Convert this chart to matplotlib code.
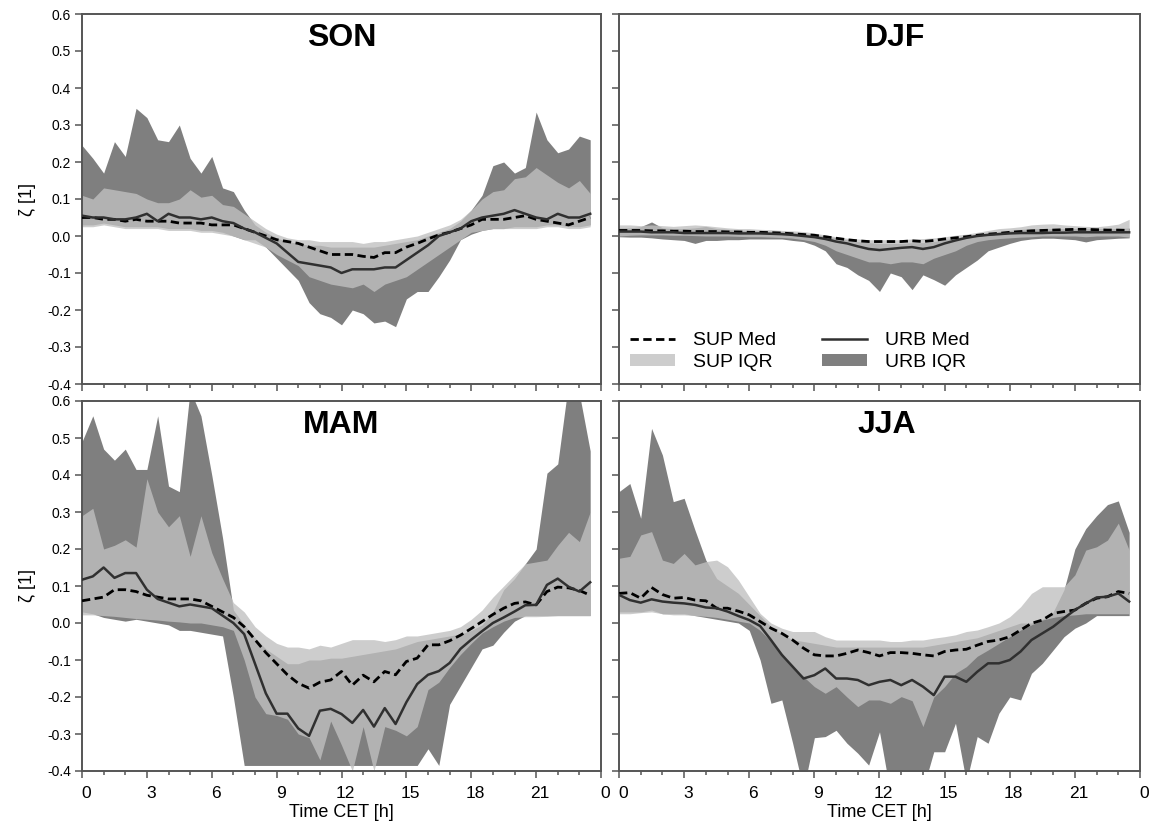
import numpy as np
import matplotlib
matplotlib.use("Agg")
import matplotlib.pyplot as plt
import matplotlib.transforms as mtransforms
from matplotlib.ticker import MultipleLocator, FixedLocator
from matplotlib.lines import Line2D
from matplotlib.patches import Patch

plt.rcParams['font.family'] = ['Liberation Sans', 'DejaVu Sans']
plt.rcParams['axes.unicode_minus'] = False

# half-hourly time axis (CET)
hours = np.arange(48) * 0.5

# ---- SON ----
son_urb_med = [0.055, 0.05, 0.05, 0.045, 0.045, 0.05, 0.06, 0.04,
               0.06, 0.05, 0.05, 0.045, 0.05, 0.04, 0.035, 0.02,
               0.01, -0.005, -0.02, -0.045, -0.07, -0.075, -0.08, -0.085,
               -0.1, -0.09, -0.09, -0.09, -0.085, -0.085, -0.065, -0.045,
               -0.025, 0.0, 0.01, 0.02, 0.04, 0.05, 0.055, 0.06,
               0.07, 0.06, 0.05, 0.045, 0.06, 0.05, 0.05, 0.06]
son_sup_med = [0.05, 0.05, 0.045, 0.045, 0.04, 0.045, 0.04, 0.04,
               0.04, 0.035, 0.035, 0.035, 0.03, 0.03, 0.03, 0.02,
               0.01, 0.0, -0.01, -0.015, -0.02, -0.03, -0.04, -0.05,
               -0.05, -0.05, -0.055, -0.058, -0.045, -0.045, -0.03, -0.02,
               -0.008, 0.003, 0.01, 0.02, 0.03, 0.045, 0.045, 0.045,
               0.05, 0.055, 0.045, 0.04, 0.035, 0.03, 0.04, 0.05]
son_sup_hi = [0.11, 0.10, 0.13, 0.125, 0.12, 0.115, 0.10, 0.09,
              0.09, 0.10, 0.125, 0.105, 0.11, 0.085, 0.08, 0.06,
              0.04, 0.02, 0.005, -0.005, -0.01, -0.01, -0.015, -0.015,
              -0.015, -0.015, -0.02, -0.015, -0.015, -0.01, -0.005, 0.0,
              0.01, 0.02, 0.03, 0.045, 0.07, 0.10, 0.12, 0.125,
              0.155, 0.16, 0.185, 0.165, 0.145, 0.13, 0.15, 0.115]
son_sup_lo = [0.025, 0.025, 0.03, 0.025, 0.02, 0.02, 0.02, 0.02,
              0.015, 0.015, 0.015, 0.01, 0.01, 0.005, 0.0, -0.01,
              -0.02, -0.03, -0.05, -0.065, -0.08, -0.11, -0.12, -0.13,
              -0.135, -0.14, -0.13, -0.15, -0.13, -0.12, -0.11, -0.09,
              -0.07, -0.05, -0.03, -0.01, 0.01, 0.015, 0.02, 0.02,
              0.02, 0.02, 0.02, 0.025, 0.025, 0.02, 0.02, 0.025]
son_urb_hi = [0.245, 0.21, 0.17, 0.255, 0.215, 0.345, 0.32, 0.26,
              0.255, 0.30, 0.21, 0.17, 0.215, 0.13, 0.12, 0.07,
              0.03, 0.01, -0.005, -0.015, -0.02, -0.025, -0.025, -0.03,
              -0.03, -0.03, -0.03, -0.03, -0.025, -0.02, -0.015, -0.01,
              0.0, 0.01, 0.02, 0.04, 0.07, 0.11, 0.19, 0.20,
              0.17, 0.185, 0.335, 0.26, 0.225, 0.235, 0.27, 0.26]
son_urb_lo = [0.03, 0.03, 0.035, 0.03, 0.025, 0.025, 0.025, 0.025,
              0.02, 0.02, 0.02, 0.015, 0.015, 0.01, 0.0, -0.01,
              -0.01, -0.03, -0.06, -0.09, -0.12, -0.18, -0.21, -0.22,
              -0.24, -0.2, -0.21, -0.235, -0.23, -0.245, -0.17, -0.15,
              -0.15, -0.11, -0.065, -0.01, 0.005, 0.015, 0.02, 0.02,
              0.025, 0.025, 0.025, 0.03, 0.03, 0.025, 0.025, 0.03]

# ---- DJF ----
djf_urb_med = [0.012, 0.012, 0.012, 0.01, 0.01, 0.01, 0.008, 0.008,
               0.008, 0.008, 0.008, 0.007, 0.007, 0.007, 0.006, 0.005,
               0.003, 0.0, -0.003, -0.008, -0.015, -0.02, -0.028, -0.035,
               -0.038, -0.035, -0.032, -0.03, -0.035, -0.03, -0.02, -0.012,
               -0.005, 0.0, 0.003, 0.005, 0.007, 0.008, 0.008, 0.008,
               0.009, 0.009, 0.01, 0.01, 0.01, 0.01, 0.01, 0.01]
djf_sup_med = [0.015, 0.015, 0.015, 0.014, 0.014, 0.013, 0.013, 0.012,
               0.012, 0.012, 0.011, 0.011, 0.01, 0.01, 0.009, 0.008,
               0.006, 0.004, 0.002, -0.002, -0.006, -0.01, -0.013, -0.015,
               -0.015, -0.015, -0.015, -0.013, -0.015, -0.012, -0.008, -0.005,
               -0.002, 0.002, 0.005, 0.007, 0.01, 0.012, 0.014, 0.015,
               0.016, 0.017, 0.018, 0.018, 0.017, 0.016, 0.016, 0.015]
djf_sup_hi = [0.03, 0.03, 0.028, 0.03, 0.028, 0.026, 0.028, 0.03,
              0.028, 0.025, 0.022, 0.02, 0.02, 0.018, 0.017, 0.015,
              0.014, 0.012, 0.008, 0.003, -0.002, -0.006, -0.008, -0.01,
              -0.01, -0.01, -0.01, -0.008, -0.007, -0.005, -0.002, 0.002,
              0.005, 0.01, 0.015, 0.02, 0.022, 0.025, 0.03, 0.032,
              0.033, 0.03, 0.028, 0.026, 0.025, 0.028, 0.032, 0.045]
djf_sup_lo = [0.0, 0.002, 0.003, 0.003, 0.003, 0.002, 0.002, 0.001,
              0.0, 0.0, 0.0, -0.001, -0.002, -0.002, -0.003, -0.004,
              -0.006, -0.01, -0.015, -0.025, -0.04, -0.05, -0.06, -0.07,
              -0.07, -0.075, -0.07, -0.07, -0.075, -0.06, -0.05, -0.04,
              -0.025, -0.015, -0.01, -0.007, -0.005, -0.003, -0.002, 0.0,
              0.0, 0.0, 0.0, -0.002, 0.0, 0.0, 0.0, -0.003]
djf_urb_hi = [0.022, 0.022, 0.025, 0.038, 0.022, 0.02, 0.02, 0.022,
              0.026, 0.02, 0.018, 0.016, 0.015, 0.014, 0.013, 0.012,
              0.01, 0.007, 0.004, 0.0, -0.005, -0.01, -0.015, -0.018,
              -0.02, -0.02, -0.02, -0.018, -0.018, -0.015, -0.01, -0.005,
              0.0, 0.005, 0.008, 0.012, 0.015, 0.018, 0.02, 0.02,
              0.02, 0.02, 0.02, 0.02, 0.02, 0.02, 0.02, 0.022]
djf_urb_lo = [-0.002, -0.003, -0.003, -0.005, -0.008, -0.01, -0.012, -0.02,
              -0.012, -0.012, -0.01, -0.01, -0.008, -0.008, -0.008, -0.008,
              -0.012, -0.015, -0.025, -0.04, -0.075, -0.085, -0.105, -0.12,
              -0.15, -0.1, -0.11, -0.145, -0.105, -0.118, -0.133, -0.105,
              -0.085, -0.065, -0.04, -0.03, -0.02, -0.012, -0.008, -0.006,
              -0.006, -0.008, -0.01, -0.016, -0.01, -0.008, -0.006, -0.005]

# ---- MAM ----
mam_urb_med = [0.117, 0.126, 0.15, 0.122, 0.135, 0.135, 0.09, 0.065,
               0.055, 0.045, 0.05, 0.045, 0.04, 0.02, 0.0, -0.03,
               -0.11, -0.19, -0.245, -0.245, -0.285, -0.305, -0.237, -0.232,
               -0.246, -0.27, -0.235, -0.28, -0.23, -0.273, -0.214, -0.165,
               -0.14, -0.13, -0.108, -0.07, -0.045, -0.022, 0.0, 0.015,
               0.031, 0.048, 0.049, 0.103, 0.12, 0.098, 0.085, 0.11]
mam_sup_med = [0.06, 0.065, 0.07, 0.09, 0.09, 0.085, 0.075, 0.07,
               0.065, 0.065, 0.065, 0.06, 0.045, 0.03, 0.015, -0.01,
               -0.045, -0.08, -0.11, -0.14, -0.163, -0.176, -0.16, -0.154,
               -0.131, -0.168, -0.141, -0.159, -0.131, -0.14, -0.104, -0.095,
               -0.059, -0.059, -0.048, -0.033, -0.015, 0.004, 0.023, 0.04,
               0.053, 0.057, 0.049, 0.085, 0.097, 0.095, 0.088, 0.075]
mam_sup_hi = [0.29, 0.31, 0.2, 0.21, 0.225, 0.205, 0.39, 0.30,
              0.26, 0.29, 0.18, 0.29, 0.19, 0.12, 0.055, 0.03,
              -0.01, -0.035, -0.055, -0.065, -0.065, -0.07, -0.06, -0.065,
              -0.055, -0.045, -0.045, -0.045, -0.05, -0.045, -0.035, -0.035,
              -0.03, -0.025, -0.02, -0.01, 0.01, 0.035, 0.07, 0.10,
              0.13, 0.16, 0.165, 0.17, 0.21, 0.245, 0.22, 0.30]
mam_sup_lo = [0.022, 0.022, 0.02, 0.018, 0.015, 0.012, 0.01, 0.008,
              0.005, 0.003, 0.0, 0.0, -0.005, -0.01, -0.02, -0.1,
              -0.2, -0.245, -0.25, -0.26, -0.3, -0.31, -0.37, -0.265,
              -0.33, -0.4, -0.28, -0.4, -0.28, -0.29, -0.305, -0.28,
              -0.18, -0.16, -0.12, -0.085, -0.055, -0.027, -0.01, 0.005,
              0.015, 0.017, 0.017, 0.018, 0.02, 0.02, 0.02, 0.02]
mam_urb_hi = [0.49, 0.56, 0.47, 0.44, 0.47, 0.415, 0.415, 0.56,
              0.37, 0.355, 0.63, 0.56, 0.40, 0.23, 0.035, -0.005,
              -0.04, -0.07, -0.09, -0.11, -0.11, -0.10, -0.10, -0.095,
              -0.095, -0.09, -0.085, -0.08, -0.075, -0.07, -0.06, -0.05,
              -0.045, -0.04, -0.035, -0.03, -0.02, -0.005, 0.03, 0.09,
              0.12, 0.16, 0.20, 0.405, 0.43, 0.65, 0.62, 0.465]
mam_urb_lo = [0.03, 0.025, 0.015, 0.01, 0.005, 0.01, 0.005, 0.0,
              -0.005, -0.02, -0.02, -0.025, -0.03, -0.035, -0.2, -0.385,
              -0.385, -0.385, -0.385, -0.385, -0.385, -0.385, -0.385, -0.385,
              -0.385, -0.385, -0.385, -0.385, -0.385, -0.385, -0.385, -0.385,
              -0.34, -0.385, -0.22, -0.17, -0.12, -0.07, -0.06, -0.025,
              0.005, 0.02, 0.02, 0.02, 0.02, 0.02, 0.02, 0.02]

# ---- JJA ----
jja_urb_med = [0.076, 0.062, 0.055, 0.064, 0.058, 0.055, 0.053, 0.049,
               0.042, 0.04, 0.031, 0.019, 0.008, -0.008, -0.046, -0.086,
               -0.118, -0.15, -0.141, -0.123, -0.15, -0.15, -0.154, -0.168,
               -0.159, -0.154, -0.168, -0.154, -0.172, -0.195, -0.145, -0.145,
               -0.159, -0.132, -0.109, -0.109, -0.1, -0.077, -0.046, -0.028,
               -0.01, 0.013, 0.035, 0.053, 0.069, 0.071, 0.08, 0.058]
jja_sup_med = [0.08, 0.082, 0.067, 0.096, 0.077, 0.067, 0.069, 0.062,
               0.06, 0.04, 0.04, 0.032, 0.022, 0.004, -0.014, -0.028,
               -0.046, -0.068, -0.086, -0.089, -0.089, -0.082, -0.073, -0.08,
               -0.089, -0.08, -0.08, -0.082, -0.086, -0.089, -0.077, -0.073,
               -0.071, -0.06, -0.05, -0.046, -0.037, -0.019, -0.001, 0.008,
               0.026, 0.031, 0.035, 0.053, 0.067, 0.071, 0.085, 0.08]
jja_sup_hi = [0.175, 0.18, 0.238, 0.247, 0.17, 0.161, 0.188, 0.157,
              0.166, 0.17, 0.152, 0.116, 0.071, 0.026, 0.0, -0.014,
              -0.023, -0.023, -0.023, -0.037, -0.046, -0.046, -0.046, -0.046,
              -0.046, -0.05, -0.05, -0.046, -0.046, -0.041, -0.037, -0.032,
              -0.023, -0.019, -0.01, 0.0, 0.017, 0.044, 0.08, 0.098,
              0.098, 0.098, 0.13, 0.197, 0.206, 0.224, 0.27, 0.197]
jja_sup_lo = [0.025, 0.025, 0.028, 0.03, 0.025, 0.022, 0.022, 0.02,
              0.018, 0.015, 0.01, 0.005, 0.0, -0.02, -0.05, -0.082,
              -0.12, -0.145, -0.172, -0.19, -0.172, -0.2, -0.226, -0.208,
              -0.208, -0.217, -0.199, -0.21, -0.28, -0.2, -0.172, -0.136,
              -0.118, -0.09, -0.073, -0.055, -0.037, -0.019, -0.005, 0.008,
              0.015, 0.02, 0.022, 0.025, 0.025, 0.025, 0.025, 0.025]
jja_urb_hi = [0.355, 0.377, 0.283, 0.526, 0.454, 0.328, 0.337, 0.251,
              0.17, 0.12, 0.10, 0.08, 0.05, 0.02, -0.01, -0.03,
              -0.045, -0.05, -0.055, -0.06, -0.065, -0.065, -0.065, -0.065,
              -0.065, -0.065, -0.065, -0.065, -0.065, -0.06, -0.055, -0.05,
              -0.045, -0.04, -0.03, -0.02, -0.01, 0.0, 0.0, 0.01,
              0.03, 0.09, 0.20, 0.255, 0.29, 0.32, 0.33, 0.245]
jja_urb_lo = [0.03, 0.03, 0.03, 0.035, 0.025, 0.025, 0.025, 0.02,
              0.015, 0.01, 0.005, 0.0, -0.02, -0.1, -0.217, -0.208,
              -0.325, -0.45, -0.31, -0.307, -0.29, -0.325, -0.352, -0.384,
              -0.294, -0.46, -0.44, -0.45, -0.45, -0.348, -0.348, -0.271,
              -0.43, -0.307, -0.325, -0.244, -0.2, -0.208, -0.136, -0.109,
              -0.073, -0.037, -0.014, 0.0, 0.02, 0.02, 0.02, 0.02]

seasons = ['SON', 'DJF', 'MAM', 'JJA']
panel_data = {
    'SON': (son_urb_lo, son_urb_hi, son_sup_lo, son_sup_hi, son_urb_med, son_sup_med),
    'DJF': (djf_urb_lo, djf_urb_hi, djf_sup_lo, djf_sup_hi, djf_urb_med, djf_sup_med),
    'MAM': (mam_urb_lo, mam_urb_hi, mam_sup_lo, mam_sup_hi, mam_urb_med, mam_sup_med),
    'JJA': (jja_urb_lo, jja_urb_hi, jja_sup_lo, jja_sup_hi, jja_urb_med, jja_sup_med),
}

x_ticks = [0, 3, 6, 9, 12, 15, 18, 21, 24]
x_labels = ['0', '3', '6', '9', '12', '15', '18', '21', '0']
y_ticks = [-0.4, -0.3, -0.2, -0.1, 0.0, 0.1, 0.2, 0.3, 0.4, 0.5, 0.6]
y_labels = ['-0.4', '-0.3', '-0.2', '-0.1', '0.0', '0.1', '0.2', '0.3', '0.4', '0.5', '0.6']

URB_COL = '#7f7f7f'
SUP_COL = '#c0c0c0'
SUP_ALPHA = 0.79
SPINE_COL = '#555555'

W, H = 1151, 835
fig = plt.figure(figsize=(W / 100, H / 100), dpi=100)

# axes boxes in pixels: (left, top, right, bottom)
boxes = {
    'SON': (82, 14, 601, 384),
    'DJF': (619, 14, 1140, 384),
    'MAM': (82, 401, 601, 771),
    'JJA': (619, 401, 1140, 771),
}
title_x = {'SON': 0.5, 'DJF': 0.53, 'MAM': 0.5, 'JJA': 0.515}

label_shift = mtransforms.ScaledTranslation(0.04, 0, fig.dpi_scale_trans)

axes = {}
for name in seasons:
    l, t, r, b = boxes[name]
    ax = fig.add_axes([l / W, 1 - b / H, (r - l) / W, (b - t) / H])
    axes[name] = ax
    urb_lo, urb_hi, sup_lo, sup_hi, urb_med, sup_med = panel_data[name]

    # IQR bands first, medians on top
    ax.fill_between(hours, urb_lo, urb_hi, color=URB_COL, lw=0, zorder=1)
    ax.fill_between(hours, sup_lo, sup_hi, color=SUP_COL, alpha=SUP_ALPHA, lw=0, zorder=2)
    ax.plot(hours, sup_med, color='black', lw=2.0, dashes=(3, 1.6), zorder=3)
    ax.plot(hours, urb_med, color='#303030', lw=1.8, zorder=4)

    ax.set_xlim(0, 24)
    ax.set_ylim(-0.4, 0.6)
    ax.xaxis.set_major_locator(FixedLocator(x_ticks))
    ax.xaxis.set_minor_locator(MultipleLocator(1))
    ax.yaxis.set_major_locator(FixedLocator(y_ticks))
    ax.tick_params(which='both', direction='out', color=SPINE_COL, width=1.1)
    ax.tick_params(which='major', length=5)
    ax.tick_params(which='minor', length=3)
    ax.tick_params(axis='x', labelsize=12.5, pad=6)
    ax.tick_params(axis='y', labelsize=10, pad=3)
    for sp in ax.spines.values():
        sp.set_color(SPINE_COL)
        sp.set_linewidth(1.4)

    if name in ('SON', 'MAM'):
        ax.set_yticklabels(y_labels)
        ax.set_ylabel('ζ [1]', fontsize=13, labelpad=8)
    else:
        ax.set_yticklabels([])

    if name in ('MAM', 'JJA'):
        ax.set_xticklabels(x_labels)
        for lab in ax.get_xticklabels():
            lab.set_transform(lab.get_transform() + label_shift)
        ax.set_xlabel('Time CET [h]', fontsize=13, labelpad=2)
    else:
        ax.set_xticklabels([])

    ax.text(title_x[name], 0.975, name, transform=ax.transAxes, ha='center', va='top',
            fontsize=23, fontweight='bold')

# legend in the DJF panel
handles = [
    Line2D([], [], color='black', lw=2.0, dashes=(3, 1.6)),
    Patch(facecolor=SUP_COL, alpha=SUP_ALPHA, edgecolor='none'),
    Line2D([], [], color='#303030', lw=1.8),
    Patch(facecolor=URB_COL, edgecolor='none'),
]
labels = ['SUP Med', 'SUP IQR', 'URB Med', 'URB IQR']
axes['DJF'].legend(handles, labels, loc='lower left', bbox_to_anchor=(0.022, 0.035),
                   ncol=2, frameon=False, fontsize=14, handlelength=2.3,
                   handleheight=0.55, handletextpad=0.9, columnspacing=2.4,
                   labelspacing=0.25, borderpad=0, borderaxespad=0)

fig.savefig('out.png', dpi=100)
